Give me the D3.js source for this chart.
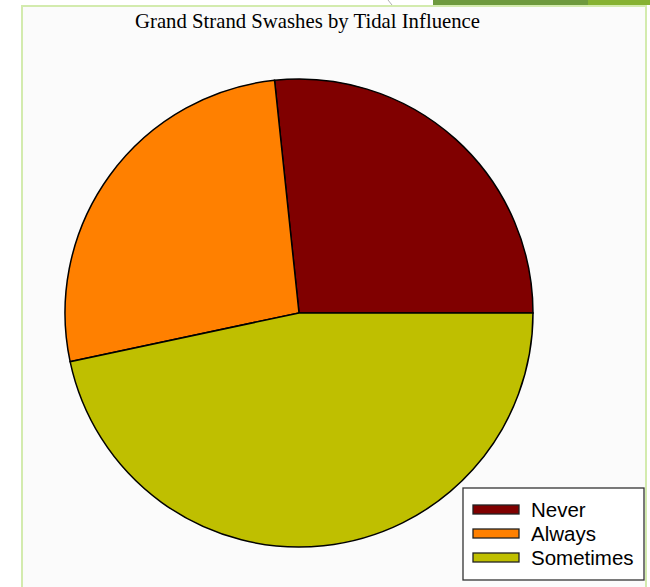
<!DOCTYPE html>
<html>
<head>
<meta charset="utf-8">
<script src="https://cdn.jsdelivr.net/npm/d3@7"></script>
<style>
  html, body { margin: 0; padding: 0; background: #ffffff; }
  svg { display: block; }
</style>
</head>
<body>
<div id="chart"></div>
<script>
var categories = ["Never", "Always", "Sometimes"];
var counts = [4, 4, 7];
var colors = ["#800000", "#ff8000", "#bfbf00"];

var width = 650, height = 587;
var cx = 299, cy = 313, radius = 234;

var svg = d3.select("#chart")
            .append("svg")
            .attr("width", width)
            .attr("height", height);

// slide frame bits
svg.append("rect")
   .attr("x", 433).attr("y", 0)
   .attr("width", 217).attr("height", 5)
   .attr("fill", "#6e9a3e");
svg.append("rect")
   .attr("x", 588).attr("y", 0)
   .attr("width", 62).attr("height", 5)
   .attr("fill", "#86b232");
svg.append("line")
   .attr("x1", 388).attr("y1", 0).attr("x2", 392).attr("y2", 5)
   .attr("stroke", "#b0b0b0").attr("stroke-width", 1);

svg.append("rect")
   .attr("x", 22).attr("y", 6)
   .attr("width", 624).attr("height", 600)
   .attr("fill", "#fbfbfb")
   .attr("stroke", "#d3ebae")
   .attr("stroke-width", 2);

svg.append("text")
   .attr("x", 135)
   .attr("y", 28)
   .attr("textLength", 345)
   .attr("lengthAdjust", "spacingAndGlyphs")
   .attr("font-family", "Liberation Serif, Times New Roman, serif")
   .attr("font-size", 22)
   .attr("fill", "#000")
   .text("Grand Strand Swashes by Tidal Influence");

// R style: counter-clockwise from 3 o'clock
var pie = d3.pie()
            .sort(null)
            .startAngle(Math.PI / 2)
            .endAngle(Math.PI / 2 - 2 * Math.PI);

var arc = d3.arc().innerRadius(0).outerRadius(radius);

svg.append("g")
     .attr("transform", "translate(" + cx + "," + cy + ")")
   .selectAll("path")
     .data(pie(counts))
   .enter().append("path")
     .attr("d", arc)
     .attr("fill", (d, i) => colors[i])
     .attr("stroke", "#000")
     .attr("stroke-width", 1.5);

var legend = svg.append("g").attr("transform", "translate(463,488)");
legend.append("rect")
      .attr("width", 181).attr("height", 92)
      .attr("fill", "#fff")
      .attr("stroke", "#333")
      .attr("stroke-width", 1.3);

var rows = legend.selectAll(".row")
      .data(categories)
    .enter().append("g")
      .attr("class", "row")
      .attr("transform", (d, i) => "translate(0," + (22 + i * 24) + ")");

rows.append("rect")
    .attr("x", 10).attr("y", -5)
    .attr("width", 46).attr("height", 9)
    .attr("fill", (d, i) => colors[i])
    .attr("stroke", "#222")
    .attr("stroke-width", 1.3);

rows.append("text")
    .attr("x", 68)
    .attr("y", 7)
    .attr("font-family", "Liberation Sans, Arial, sans-serif")
    .attr("font-size", 20.5)
    .attr("fill", "#000")
    .text(d => d);
</script>
</body>
</html>
